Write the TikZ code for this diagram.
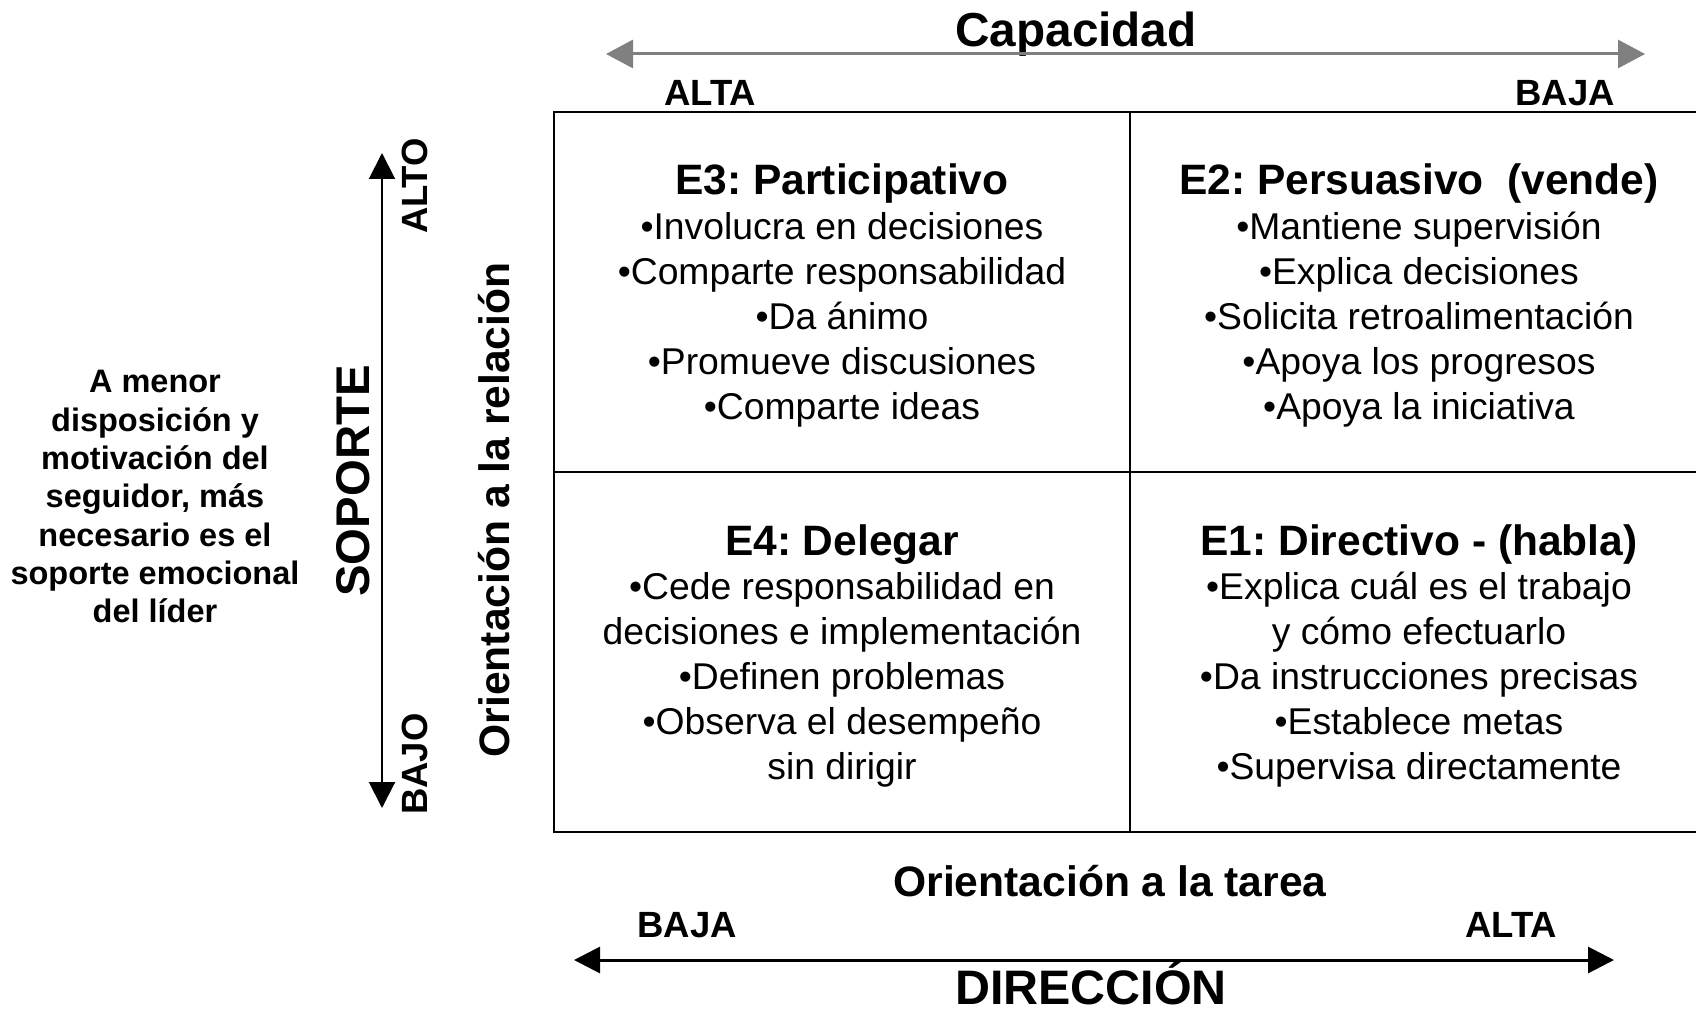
\documentclass[tikz,border=0pt]{standalone}
\usepackage{fontspec}
\setmainfont{Liberation Sans}
\usetikzlibrary{arrows.meta}
\definecolor{arrowgray}{HTML}{808080}
\frenchspacing
\begin{document}
\begin{tikzpicture}[x=0.5pt,y=-0.5pt,
  every node/.style={inner sep=0pt, anchor=base},
  body/.style={font=\fontsize{18.65}{22}\selectfont},
  ttl/.style={font=\bfseries\fontsize{21.25}{25}\selectfont},
  lvl/.style={font=\bfseries\fontsize{18.25}{22}\selectfont},
  axis/.style={font=\bfseries\fontsize{21.3}{25}\selectfont},
  side/.style={font=\bfseries\fontsize{16.25}{19}\selectfont},
  grid/.style={line width=1.1pt, black},
  grayarrow/.style={line width=1.5pt, arrowgray, {Triangle[length=13.5pt,width=14pt]}-{Triangle[length=13.5pt,width=14pt]}},
  blackarrow/.style={line width=1.5pt, black, {Triangle[length=13pt,width=13pt]}-{Triangle[length=13pt,width=13pt]}},
  vertarrow/.style={line width=1pt, black, {Triangle[length=13pt,width=13pt]}-{Triangle[length=13pt,width=13pt]}}]
\useasboundingbox (0,0) rectangle (1696,1010);
\clip (0,0) rectangle (1696,1010);

% grid
\coordinate (tl) at (554,112);
\coordinate (br) at (1708,832);
\draw[grid] (tl) rectangle (br);
\draw[grid] (1130,112) -- (1130,832);
\draw[grid] (554,472) -- (1708,472);

% top axis
\node[font=\bfseries\fontsize{23.85}{28}\selectfont] (cap) at (1076,47) {Capacidad};
\coordinate (ta) at (606,54);
\coordinate (tb) at (1645,54);
\draw[grayarrow] (ta) -- (tb);
\node[lvl] (talta) at (710,106) {ALTA};
\node[lvl] (tbaja) at (1565,106) {BAJA};

% bottom axis
\node[axis] (tarea) at (1110,896) {Orientación a la tarea};
\node[lvl] (bbaja) at (687,937) {BAJA};
\node[lvl] (balta) at (1511,937) {ALTA};
\coordinate (ba) at (574,960);
\coordinate (bb) at (1614,960);
\draw[blackarrow] (ba) -- (bb);
\node[font=\bfseries\fontsize{24.2}{29}\selectfont, text depth=0pt] (dir) at (1091,1004) {DIRECCIÓN};

% vertical axis
\coordinate (va) at (382,153);
\coordinate (vb) at (382,808);
\draw[vertarrow] (va) -- (vb);
\node[font=\bfseries\fontsize{23.65}{28}\selectfont, rotate=90] (sop) at (369,481) {SOPORTE};
\node[lvl, rotate=90] (alto) at (427,186) {ALTO};
\node[lvl, rotate=90] (bajo) at (427,764) {BAJO};
\node[axis, rotate=90] (rel) at (509,510) {Orientación a la relación};

% side text
\foreach \t [count=\i from 0] in {A menor, disposición y, motivación del, {seguidor, más}, necesario es el, soporte emocional, del líder}
  \node[side] (s\i) at (155,{393+38.33*\i}) {\t};

% cells
\node[ttl] (e3) at (842,195) {E3: Participativo};
\foreach \t [count=\i] in {•Involucra en decisiones, •Comparte responsabilidad, •Da ánimo, •Promueve discusiones, •Comparte ideas}
  \node[body] (e3l\i) at (842,{195+44.8*\i}) {\t};

\node[ttl] (e2) at (1419,195) {E2: Persuasivo\ \ (vende)};
\foreach \t [count=\i] in {•Mantiene supervisión, •Explica decisiones, •Solicita retroalimentación, •Apoya los progresos, •Apoya la iniciativa}
  \node[body] (e2l\i) at (1419,{195+44.8*\i}) {\t};

\node[ttl] (e4) at (842,555) {E4: Delegar};
\foreach \t [count=\i] in {•Cede responsabilidad en, decisiones e implementación, •Definen problemas, •Observa el desempeño, sin dirigir}
  \node[body] (e4l\i) at (842,{555+44.8*\i}) {\t};

\node[ttl] (e1) at (1419,555) {E1: Directivo - (habla)};
\foreach \t [count=\i] in {•Explica cuál es el trabajo, y cómo efectuarlo, •Da instrucciones precisas, •Establece metas, •Supervisa directamente}
  \node[body] (e1l\i) at (1419,{555+44.8*\i}) {\t};
\end{tikzpicture}
\end{document}
